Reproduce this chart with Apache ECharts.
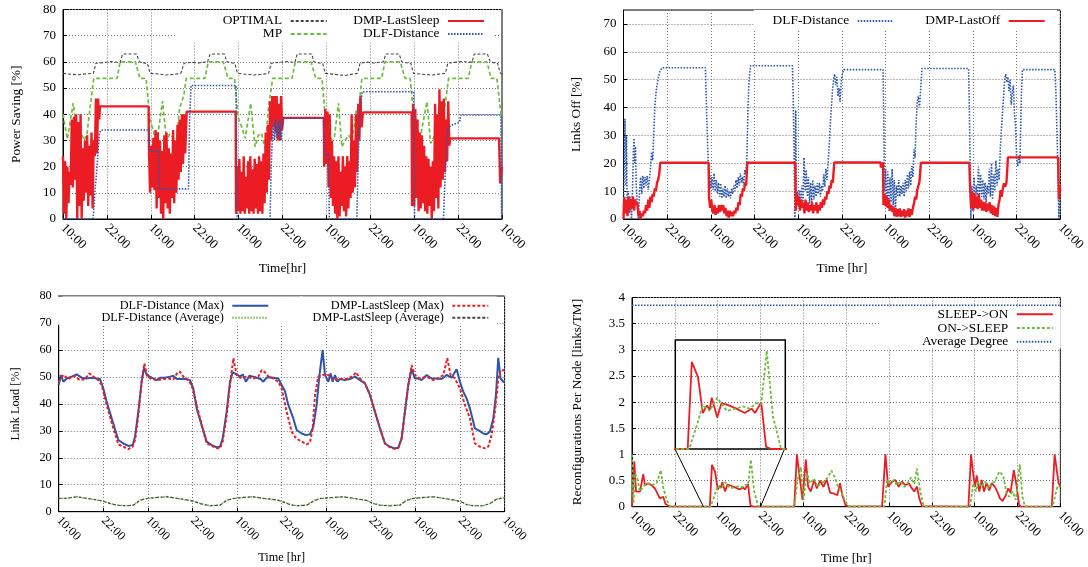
<!DOCTYPE html>
<html><head><meta charset="utf-8">
<script src="https://cdn.jsdelivr.net/npm/echarts@6/dist/echarts.min.js"></script>
<style>html,body{margin:0;padding:0;background:#fff}#c{width:1088px;height:567px}</style>
</head><body><div id="c"></div>
<script>
// ---------- DATA (time in hours from first 10:00, value) ----------
const tickLabels = ['10:00','22:00','10:00','22:00','10:00','22:00','10:00','22:00','10:00','22:00','10:00'];

// Panel 1: Power Saving [%]
const p1Optimal = [[0,55.6],[2,55.3],[4,55.1],[6,55.4],[8.3,55.6],[9.0,59.5],[11,59.7],[13,60.1],[15.6,59.8],[16.3,63.0],[20.1,63.0],[20.9,60.0],[23.1,59.3],[23.8,55.6],
[26,55.4],[28,55.0],[30,55.2],[32.2,55.6],[33.1,59.5],[35,59.8],[37,59.6],[39.5,60.0],[40.2,63.0],[44.1,63.0],[44.8,60.0],[47.0,59.4],[47.7,55.6],
[50,55.3],[52,55.0],[54,55.2],[56.2,55.6],[56.9,59.5],[59,59.8],[61,60.1],[63.4,59.8],[64.0,63.0],[68.0,63.0],[68.6,60.0],[71.0,59.3],[71.7,55.6],
[74,55.3],[77,54.8],[80.5,55.6],[81.2,59.5],[83,59.9],[85,59.6],[87.6,60.0],[88.2,63.0],[91.9,63.0],[92.6,60.0],[95.1,59.4],[95.8,55.6],
[98,55.3],[101,55.0],[104.5,55.6],[105.2,59.5],[107,59.8],[109,60.1],[111.8,59.8],[112.4,63.0],[116.0,63.0],[116.8,60.0],[118.8,59.4],[119.5,55.8],[120,55.2]];
const p1MP = [[0,40],[1.2,30.5],[2.8,44.2],[4.3,27.6],[5.2,32],[5.8,30],[6.6,33],[7.4,42.5],[8.4,53.7],[14.8,53.7],[15.6,60],[19.8,60],[21.0,53.7],[22.7,53.7],[23.8,38],
[24.6,34],[25.6,29],[27.2,45],[28.3,30],[29.2,32.5],[30.1,31],[30.8,27.6],[31.9,42.5],[33.0,47],[33.7,53.7],[38.8,53.7],[39.7,60],[43.8,60],[45.1,53.7],[46.9,53.7],[47.8,39],
[48.9,35],[49.8,30.8],[51.3,44.2],[52.5,27.6],[53.4,32],[54.3,32.7],[55.2,27],[56.2,42.9],[57.3,53.7],[62.6,53.7],[63.5,60],[67.8,60],[69.1,53.7],[70.8,53.7],[71.6,40.3],
[72.4,36],[73.2,30.2],[74.2,31.5],[75.3,44.2],[76.2,27.6],[77.1,30],[78.1,32],[79.0,30],[80.2,41.6],[80.9,43],[81.7,53.7],[87.1,53.7],[88.0,60],[92.2,60],[93.5,53.7],[94.9,53.7],[95.8,40.3],
[96.5,35.9],[97.5,30],[99.5,44.8],[100.5,28.9],[101.7,32],[103.0,30],[104.2,41],[105.4,53.7],[110.8,53.7],[111.7,60],[115.9,60],[117.0,53.7],[118.6,53.7],[119.7,40.3],[120,39.5]];
const p1DmpLastSleep = [[0,24],[0.3,2],[0.6,22],[0.9,0],[1.2,20],[1.5,6],[1.8,18],[2.1,13],[2.4,38],[2.7,12],[3.0,39],[3.3,15],[3.6,40],[3.9,0],[4.2,37],[4.5,5],[4.8,40],[5.1,0],[5.4,27],[5.7,7],[6.0,30],[6.3,10],[6.6,32],[6.9,5],[7.2,28],[7.5,9],[7.8,33],[8.1,4],[8.4,30],[8.7,24],[9.0,46],[9.3,25],[9.6,46],[9.9,38],[10.1,43],[23.4,43],
[23.5,27],[23.8,10],[24.1,28],[24.4,12],[24.7,31],[25.0,11],[25.3,34],[25.6,4],[25.9,33],[26.2,8],[26.5,30],[26.8,2],[27.1,26],[27.4,0],[27.7,32],[28.0,6],[28.3,33],[28.6,4],[28.9,27],[29.2,2],[29.5,25],[29.8,8],[30.1,34],[30.4,6],[30.7,30],[31.0,10],[31.3,36],[31.6,15],[31.9,38],[32.2,18],[32.5,40],[32.8,21],[33.1,40],[33.4,25],[33.8,41],[47.2,41],
[47.3,2],[47.6,20],[47.9,3],[48.2,23],[48.5,2],[48.8,18],[49.1,3],[49.4,24],[49.7,2],[50.0,16],[50.3,4],[50.6,22],[50.9,2],[51.2,24],[51.5,3],[51.8,19],[52.1,2],[52.4,23],[52.7,4],[53.0,21],[53.3,2],[53.6,24],[53.9,3],[54.2,22],[54.5,2],[54.8,25],[55.1,6],[55.4,33],[55.7,10],[56.0,36],[56.3,15],[56.6,45],[56.9,30],[57.2,47],[57.5,35],[57.8,47],[58.1,33],[58.4,47],[58.7,30],[59.0,44],[59.3,30],[59.6,47],[59.9,34],[60.2,38.6],[71.3,38.6],
[71.4,20],[71.7,42],[72.0,21],[72.3,41],[72.6,12],[72.9,40],[73.2,8],[73.5,30],[73.8,5],[74.1,24],[74.4,2],[74.7,22],[75.0,0],[75.3,24],[75.6,1],[75.9,18],[76.2,5],[76.5,24],[76.8,3],[77.1,20],[77.4,1],[77.7,24],[78.0,4],[78.3,22],[78.6,8],[78.9,40],[79.2,10],[79.5,30],[79.8,12],[80.1,40],[80.4,18],[80.7,44],[81.0,30],[81.3,47],[81.6,35],[82.0,40.7],[95.3,40.7],
[95.4,5],[95.7,44],[96.0,5],[96.3,42],[96.6,8],[96.9,38],[97.2,3],[97.5,33],[97.8,4],[98.1,32],[98.4,6],[98.7,28],[99.0,3],[99.3,24],[99.6,2],[99.9,23],[100.2,5],[100.5,20],[100.8,0],[101.1,22],[101.4,3],[101.7,44],[102.0,8],[102.3,40],[102.6,4],[102.9,49.5],[103.2,12],[103.5,45],[103.8,15],[104.1,46],[104.4,18],[104.7,38],[105.0,22],[105.3,45],[105.6,28],[105.9,30.8],[119.2,30.8],[119.5,13.6],[120,20]];
const p1DlfDistance = [[0,0],[8.2,0],[8.5,5],[8.8,12],[9.1,16],[9.4,22],[9.7,28],[10.0,33],[10.5,34],[23.5,34],[23.6,26],[26.1,26],[26.3,11.5],[34.3,11.5],[34.6,38],[35.0,51],[47.3,51],[47.6,0],[56.6,0],[56.9,20],[57.2,30],[57.5,36],[57.8,30],[58.1,38],[58.4,31],[58.7,37],[59.0,32],[59.3,38],[59.6,30],[60.0,38.5],[71.2,38.5],[71.4,24.4],[72.6,24.4],[72.8,0],[80.3,0],[80.6,17],[81.0,38],[81.4,44],[81.8,48.6],[95.9,48.6],[96.1,0],[104.0,0],[104.3,11],[104.6,21],[104.9,32],[105.3,35],[106.5,36],[107.5,36.5],[108.4,37],[108.7,39.7],[119.7,39.7],[119.9,0]];

// Panel 2: Links Off [%]
const p2DlfDistance = [[0,0],[0.2,20],[0.4,36],[0.6,12],[0.8,30],[1.0,5],[1.3,10],[1.6,2],[1.9,8],[2.2,0],[2.5,12],[2.7,24],[2.9,29],[3.1,20],[3.3,26],[3.5,12],[3.8,5],[4.1,0],[4.4,10],[4.7,15],[5.0,9],[5.3,15.5],[5.6,11],[5.9,15],[6.2,12],[6.5,15.5],[6.8,10.5],[7.1,14],[7.4,18],[7.7,24],[8.0,21],[8.3,30],[8.6,40],[8.9,45],[9.2,48],[9.6,51],[10.0,53],[10.6,54.3],[22.5,54.3],[22.8,40],[23.1,27],[23.4,15],
[23.7,16],[24.0,11],[24.3,15],[24.6,10.5],[24.9,16.4],[25.2,10],[25.5,14],[25.8,9.2],[26.1,13],[26.4,8],[26.7,12.8],[27.0,7.4],[27.3,11],[27.6,8],[27.9,12],[28.2,7.5],[28.5,11],[28.8,8],[29.1,10],[29.4,7.4],[29.7,11],[30.0,9],[30.3,12],[30.6,10],[30.9,14],[31.2,11],[31.5,15],[31.8,12],[32.1,16.4],[32.4,13],[32.7,15],[33.0,12],[33.3,17.6],[33.6,16],[33.9,22],[34.2,40],[34.5,50],[34.9,55],[46.4,55],[46.6,45],[46.9,20],[47.1,0],
[47.3,39],[47.5,5],[47.8,10],[48.1,4.4],[48.4,10.4],[48.7,5],[49.0,12],[49.3,6],[49.6,22],[49.9,10],[50.2,17.6],[50.5,8],[50.8,15],[51.1,5.6],[51.4,13],[51.7,6],[52.0,14],[52.3,7],[52.6,12],[52.9,8],[53.2,12.8],[53.5,9],[53.8,13],[54.1,8],[54.4,12],[54.7,10],[55.0,16],[55.3,11.6],[55.6,18],[55.9,14],[56.2,20],[56.5,26],[56.8,34],[57.1,40],[57.4,46],[57.7,50],[58.0,52],[58.3,48],[58.6,51],[58.9,44],[59.2,47],[59.5,42],[59.8,49],[60.1,52],[60.5,53.6],[71.3,53.6],[71.5,35],[71.7,10],
[72.0,18],[72.3,5],[72.6,17],[72.9,3],[73.2,15],[73.5,6],[73.8,18],[74.1,5],[74.4,14],[74.7,3],[75.0,12],[75.3,8],[75.6,14],[75.9,8],[76.2,12],[76.5,9],[76.8,13],[77.1,8],[77.4,14],[77.7,10],[78.0,16],[78.3,11],[78.6,17],[78.9,12],[79.2,19],[79.5,15],[79.8,25],[80.1,22],[80.4,35],[80.7,42],[81.0,44],[81.3,40],[81.6,46],[82.0,54],[94.8,54],[95.0,40],[95.3,12],
[95.4,0],[95.7,12],[96.0,3],[96.3,15],[96.6,5],[96.9,12],[97.2,8],[97.5,18.8],[97.8,9],[98.1,16],[98.4,8],[98.7,14],[99.0,7],[99.3,13],[99.6,6],[99.9,12],[100.2,9],[100.5,18],[100.8,8],[101.1,20],[101.4,7],[101.7,16],[102.0,10],[102.3,21],[102.6,12],[102.9,18],[103.2,14],[103.5,25],[103.8,32],[104.1,38],[104.4,44],[104.7,50],[105.0,52],[105.3,49],[105.6,51],[105.9,46],[106.2,50],[106.5,41],[106.8,45],[107.1,48],[107.4,38],[107.7,33],[108.0,22],[108.3,19],[108.6,23],[108.9,20],[109.3,45],[109.6,53.6],[118.5,53.6],[118.8,45],[119.2,25],[119.6,0],[119.8,12],[120,10]];
const p2DmpLastOff = [[0,0],[0.2,8],[0.5,2],[0.8,7],[1.1,1],[1.4,8],[1.7,3],[2.0,7],[2.3,4],[2.6,8],[2.9,3],[3.2,7],[3.5,5],[3.8,6],[4.1,1],[4.4,3],[4.7,0],[5.0,2],[5.3,1],[5.6,3],[5.9,2],[6.2,5],[6.5,3],[6.8,7],[7.1,4],[7.4,8],[7.7,6],[8.0,9],[8.3,8],[8.6,11],[8.9,10],[9.2,13],[9.5,14],[9.8,16],[10.1,20.2],[23.4,20.2],
[23.5,7.5],[23.8,4],[24.1,7],[24.4,3],[24.7,2],[25.0,5],[25.3,1.5],[25.6,4],[25.9,2],[26.2,5],[26.5,2.5],[26.8,5],[27.1,3],[27.4,5],[27.7,2],[28.0,4],[28.3,1],[28.6,3],[28.9,0.5],[29.2,3],[29.5,1],[29.8,2.5],[30.1,1],[30.4,3],[30.7,2],[31.0,4],[31.3,3],[31.6,6],[31.9,5],[32.2,9],[32.5,8],[32.8,11],[33.1,10],[33.4,13],[33.7,12],[34.0,20.2],[47.2,20.2],
[47.3,3],[47.6,9],[47.9,5],[48.2,8],[48.5,3],[48.8,7],[49.1,4],[49.4,6],[49.7,2],[50.0,7],[50.3,3],[50.6,6],[50.9,2.5],[51.2,5],[51.5,3],[51.8,6],[52.1,2],[52.4,5],[52.7,3],[53.0,6],[53.3,2],[53.6,5],[53.9,3],[54.2,6],[54.5,4],[54.8,7],[55.1,5],[55.4,8],[55.7,7],[56.0,10],[56.3,9],[56.6,12],[56.9,11],[57.2,14],[57.5,13],[57.9,20.3],[70.6,20.3],[70.7,18.5],[71.1,18.5],[71.3,20.3],
[71.4,5],[71.7,9],[72.0,4.5],[72.3,8],[72.6,4],[72.9,7],[73.2,3],[73.5,5],[73.8,2.6],[74.1,4.5],[74.4,1],[74.7,4],[75.0,0.8],[75.3,3.5],[75.6,1],[75.9,3.8],[76.2,0.8],[76.5,3],[76.8,1],[77.1,3.5],[77.4,0.5],[77.7,3],[78.0,1],[78.3,3.8],[78.6,0.8],[78.9,3.5],[79.2,1.5],[79.5,4],[79.8,5.6],[80.1,8],[80.4,7],[80.7,10.4],[81.0,11],[81.3,13.4],[81.7,20.2],[95.0,20.2],
[95.2,11.6],[95.5,4],[95.8,10],[96.1,3.2],[96.4,9.2],[96.7,4],[97.0,8],[97.3,3.5],[97.6,9],[97.9,4],[98.2,7],[98.5,3],[98.8,6.2],[99.1,3],[99.4,6],[99.7,2.6],[100.0,5.5],[100.3,3],[100.6,6],[100.9,2],[101.2,5],[101.5,1.5],[101.8,4.5],[102.1,1],[102.4,4],[102.7,0.8],[103.0,5],[103.3,7],[103.6,10.4],[103.9,8],[104.2,11],[104.5,12.8],[104.8,11.5],[105.2,13],[105.6,22.1],[119.4,22.1],[119.6,7],[119.8,12],[120,10]];

// Panel 3: Link Load [%]
const p3DlfMax = [[0,47.0],[0.54,50.7],[1.26,48.2],[2.15,49.4],[3.5,50.1],[4.84,50.9],[6.19,49.7],[7.53,49.4],[8.88,49.7],[10.22,49.4],[11.12,49.2],[12.02,45.7],[12.91,40.8],[14.26,34.6],[16.05,26.6],[17.4,25.3],[18.74,24.4],[19.91,24.7],[20.54,27.8],[21.43,37.1],[22.33,48.2],[22.96,53.4],[23.68,50.7],[25.02,49.7],[26.37,48.8],[27.26,49.7],[28.61,49.7],[29.96,50.1],[30.85,50.4],[31.75,49.2],[32.65,49.2],[33.99,49.2],[35.34,48.8],[36.23,45.7],[37.13,38.3],[38.48,32.1],[39.82,26.0],[41.17,24.7],[42.51,23.9],[43.41,24.1],[44.13,27.2],[45.2,37.1],[46.1,48.2],[46.82,51.7],[47.89,50.9],[48.79,50.1],[49.51,50.9],[50.4,48.2],[51.3,50.4],[52.38,50.1],[53.27,49.7],[54.35,49.2],[55.07,48.2],[55.96,49.7],[56.86,49.9],[57.76,49.7],[59.1,49.4],[60.0,47.0],[60.9,44.7],[61.79,39.6],[63.14,34.6],[64.04,30.3],[65.38,29.0],[66.55,28.4],[67.62,28.7],[68.52,31.5],[69.42,39.6],[70.13,50.1],[70.58,50.7],[71.03,60.0],[71.66,50.7],[72.11,50.9],[72.56,48.2],[73.18,51.3],[73.72,48.2],[74.35,50.7],[74.98,48.2],[75.7,49.2],[77.04,48.8],[78.39,49.2],[79.73,50.1],[81.08,48.8],[82.42,47.6],[83.77,43.3],[85.11,37.1],[86.46,30.9],[87.8,25.3],[89.15,24.1],[90.49,23.5],[91.39,23.7],[92.29,27.2],[93.18,37.1],[94.08,47.0],[94.98,52.9],[95.87,49.4],[96.77,49.4],[97.67,48.8],[99.01,50.7],[100.36,49.4],[101.7,49.4],[103.05,49.2],[104.39,50.7],[105.74,49.7],[107.09,52.8],[107.98,48.2],[108.88,44.5],[109.78,42.0],[110.67,38.3],[112.02,30.9],[113.36,29.9],[114.26,29.0],[115.16,28.7],[116.05,29.7],[116.95,34.6],[117.67,43.3],[118.3,57.1],[118.92,49.4],[119.64,48.2],[120,48.0]];
const p3DlfAvg = [[0,4.9],[2.15,4.9],[4.84,5.6],[7.53,4.9],[10.22,4.3],[12.02,4.0],[13.81,3.1],[15.61,2.5],[18.3,2.2],[20.09,2.5],[21.88,4.3],[23.68,4.9],[26.37,5.2],[29.06,5.6],[31.75,4.9],[34.44,4.3],[36.23,4.0],[38.03,3.1],[40.72,2.2],[43.41,2.5],[45.2,4.3],[47.0,4.9],[49.69,5.2],[52.38,5.6],[55.07,4.9],[58.65,4.3],[60.45,3.7],[62.24,2.7],[64.04,2.2],[66.73,2.5],[68.52,4.0],[70.31,4.9],[73.9,5.2],[76.59,5.6],[79.28,4.9],[82.87,4.1],[84.66,3.1],[86.46,2.5],[89.15,2.2],[91.84,2.5],[93.63,4.3],[95.43,4.9],[98.12,5.2],[100.81,5.6],[103.5,4.9],[106.19,4.3],[108.43,3.7],[109.78,2.7],[111.57,2.2],[114.26,2.2],[116.05,3.1],[117.85,4.7],[119.64,5.2],[120,5.2]];
const p3DmpMax = [[0,48.2],[1.26,50.7],[2.6,49.2],[3.95,50.4],[5.74,48.8],[7.09,49.2],[8.25,51.3],[9.33,50.1],[10.67,48.8],[11.57,47.0],[12.91,39.6],[14.71,30.9],[16.05,25.0],[17.4,24.1],[18.74,23.2],[19.91,24.1],[20.54,26.6],[21.43,35.8],[22.33,48.2],[23.05,55.0],[23.86,50.1],[25.02,49.2],[26.37,48.8],[28.16,49.2],[29.51,49.4],[30.85,49.1],[32.02,51.7],[32.65,51.9],[33.54,50.1],[34.44,49.4],[35.78,47.0],[37.13,39.6],[38.48,32.1],[39.82,25.3],[41.17,24.5],[42.51,23.5],[43.41,23.5],[44.13,26.0],[45.2,35.8],[46.1,47.0],[47.0,56.9],[47.89,50.7],[48.79,49.7],[50.58,50.1],[52.38,49.4],[53.72,50.1],[54.62,52.5],[55.52,51.7],[56.41,50.1],[57.76,49.4],[59.1,48.2],[60.0,45.7],[61.35,37.1],[62.69,29.7],[63.86,27.2],[65.38,26.0],[66.73,25.0],[67.62,25.7],[68.34,30.9],[68.97,43.3],[69.87,50.1],[71.03,50.7],[72.11,50.9],[73.0,50.4],[73.9,48.8],[75.7,49.2],[77.49,49.2],[79.28,50.4],[80.0,51.7],[81.08,49.4],[82.42,47.6],[83.77,43.3],[85.11,37.1],[86.46,30.9],[87.8,25.3],[89.15,23.9],[90.49,23.2],[91.39,23.7],[92.29,27.2],[93.18,37.1],[94.08,47.0],[94.98,54.4],[95.87,50.7],[97.22,49.4],[99.01,50.1],[100.81,48.8],[102.15,49.4],[103.5,50.7],[104.57,56.9],[105.47,50.7],[106.64,49.4],[107.98,45.7],[109.33,39.6],[110.67,34.6],[112.02,25.3],[113.36,24.1],[114.71,23.5],[115.61,24.1],[116.5,28.4],[117.4,37.1],[118.3,49.4],[118.92,52.5],[119.64,52.5],[120,52.5]];
const p3DmpAvg = [[0,5.0],[2.15,5.0],[4.84,5.5],[7.53,5.0],[10.22,4.4],[12.02,3.9],[13.81,3.0],[15.61,2.4],[18.3,2.2],[20.09,2.4],[21.88,4.2],[23.68,4.9],[26.37,5.3],[29.06,5.5],[31.75,5.0],[34.44,4.4],[36.23,3.9],[38.03,3.0],[40.72,2.2],[43.41,2.4],[45.2,4.2],[47.0,4.9],[49.69,5.3],[52.38,5.5],[55.07,5.0],[58.65,4.4],[60.45,3.6],[62.24,2.6],[64.04,2.2],[66.73,2.4],[68.52,3.9],[70.31,4.9],[73.9,5.3],[76.59,5.5],[79.28,5.0],[82.87,4.2],[84.66,3.0],[86.46,2.4],[89.15,2.2],[91.84,2.4],[93.63,4.2],[95.43,4.9],[98.12,5.3],[100.81,5.5],[103.5,5.0],[106.19,4.4],[108.43,3.6],[109.78,2.6],[111.57,2.2],[114.26,2.2],[116.05,3.0],[117.85,4.6],[119.64,5.1],[120,5.1]];

// Panel 4: Reconfigurations Per Node [links/TM]
const p4SleepOn = [[0,0],[0.65,0.87],[1.12,0.29],[2.23,0.29],[3.16,0.62],[3.62,0.41],[4.55,0.45],[5.48,0.41],[6.41,0.35],[6.88,0.38],[7.81,0.16],[8.74,0.19],[9.39,0.05],[10.6,0],
[21.8,0],[22.4,0.8],[23.3,0.66],[24.0,0.33],[24.6,0.4],[25.0,0.36],[25.3,0.47],[26.1,0.29],[26.7,0.42],[27.4,0.41],[28.9,0.37],[30.1,0.33],[31.1,0.37],[31.6,0.33],[32.5,0.43],[33.2,0.02],[34.0,0],
[45.45,0],[46.19,1.0],[47.77,0.13],[48.7,0.9],[49.35,0.38],[50.09,0.29],[51.02,0.51],[51.77,0.35],[52.7,0.5],[53.62,0.38],[54.55,0.52],[55.48,0.27],[56.6,0.25],[57.53,0.22],[58.27,0.45],[58.92,0.22],[59.85,0.03],[60.78,0],
[70.07,0.01],[71.0,1.0],[71.75,0.38],[72.86,0.48],[73.79,0.51],[74.72,0.38],[75.65,0.48],[76.58,0.41],[77.51,0.45],[78.44,0.35],[79.09,0.29],[79.83,0.39],[80.48,0.16],[81.23,0.01],
[94.24,0],[94.98,1.0],[95.63,0.6],[96.1,0.38],[96.56,0.6],[97.3,0.29],[97.96,0.51],[98.61,0.29],[99.35,0.45],[100.09,0.31],[100.74,0.45],[101.67,0.38],[102.32,0.29],[103.07,0.16],[103.81,0.11],[104.74,0.22],[105.39,0.35],[106.04,0.27],[106.97,0.7],[107.71,0.41],[108.46,0.03],[109.11,0],
[117.6,0],[118.4,1.0],[119.5,0.45],[120,0.4]];
const p4OnSleep = [[0,1.0],[0.4,0.06],[0.85,0.64],[1.5,0.54],[2.2,0.29],[3.2,0.38],[4.1,0.45],[5.5,0.41],[6.9,0.45],[8.1,0.7],[8.7,0.38],[9.7,0.13],[10.6,0.01],[11.0,0],
[22.0,0],[22.9,0.17],[24.0,0.40],[25.0,0.35],[26.1,0.47],[27.5,0.35],[28.7,0.37],[29.9,0.39],[30.8,0.37],[31.8,0.42],[32.5,0.41],[33.3,0.9],[34.2,0.3],[35.4,0],
[45.45,0],[46.38,0.51],[47.3,0.76],[48.05,0.13],[48.98,0.64],[49.91,0.45],[51.02,0.54],[51.95,0.38],[52.88,0.45],[53.81,0.48],[54.93,0.57],[55.86,0.69],[56.78,0.57],[57.71,0.38],[58.64,0.29],[59.57,0.13],[60.5,0.01],[61.0,0],
[70.7,0],[71.47,0.51],[72.4,0.45],[73.33,0.51],[74.26,0.41],[75.19,0.49],[76.3,0.38],[77.23,0.45],[78.16,0.56],[79.09,0.43],[79.83,0.73],[80.76,0.29],[81.5,0.06],[82.16,0],
[94.7,0],[95.63,0.45],[96.37,0.29],[97.03,0.48],[97.96,0.38],[98.88,0.48],[99.81,0.35],[100.74,0.45],[101.67,0.48],[102.88,0.67],[103.99,0.6],[104.93,0.25],[105.67,0.19],[106.6,0.29],[107.53,0.13],[108.64,0.81],[109.39,0.19],[110.04,0.01],[110.97,0],
[117.8,0],[119.2,0.4],[120,0.38]];
const p4AvgDegree = [[0,3.85],[120,3.85]];
// zoom-in inset: magnified range and its connector lines (in panel-4 data units)
const insetRangeX = [20, 36];
const insetRangeY = [0, 1];
const insetLinkLeft = [[12.07,1.1],[20,0]];
const insetLinkRight = [[42.7,1.1],[36,0]];

// ---------- STYLE ----------
const SERIF = '"Liberation Serif","Times New Roman","DejaVu Serif",serif';
const RED = '#ec1c24', BLUE = '#2b56ac', GREEN = '#6cbd3c', BLACK = '#444';

function xAxis(gi, fs, nfs, name, gap) {
  return {type:'value', gridIndex:gi, min:0, max:120, interval:12,
    name:name, nameLocation:'middle', nameGap:gap,
    nameTextStyle:{fontFamily:SERIF, fontSize:nfs, color:'#000'},
    axisLine:{show:true, onZero:false, lineStyle:{color:'#000', width:1}},
    axisTick:{show:true, inside:true, length:4, lineStyle:{color:'#000'}},
    axisLabel:{rotate:-45, margin:7, fontFamily:SERIF, fontSize:fs, color:'#000',
      formatter:function(v){return tickLabels[Math.round(v/12)];}},
    splitLine:{show:true, lineStyle:{color:'#777', width:1, type:[1,2]}}};
}
function yAxis(gi, min, max, interval, fs, nfs, name, gap, showMax) {
  return {type:'value', gridIndex:gi, min:min, max:max, interval:interval,
    name:name, nameLocation:'middle', nameGap:gap,
    nameTextStyle:{fontFamily:SERIF, fontSize:nfs, color:'#000'},
    axisLine:{show:true, onZero:false, lineStyle:{color:'#000', width:1}},
    axisTick:{show:true, inside:true, length:4, lineStyle:{color:'#000'}},
    axisLabel:{margin:7, fontFamily:SERIF, fontSize:fs, color:'#000', showMaxLabel:showMax},
    splitLine:{show:true, lineStyle:{color:'#777', width:1, type:[1,2]}}};
}
function ser(name, gi, data, color, width, type, extra) {
  return Object.assign({type:'line', name:name, xAxisIndex:gi, yAxisIndex:gi, data:data,
    symbol:'none', showSymbol:false, animation:false, clip:true,
    lineStyle:{color:color, width:width, type:type}, itemStyle:{color:color}}, extra||{});
}
function legend(names, right, top, pad, fs, lh) {
  return {data:names, orient:'vertical', align:'right', right:right, top:top, padding:pad,
    itemGap:0, itemWidth:36, itemHeight:8, backgroundColor:'#fff', selectedMode:false,
    itemStyle:{opacity:0, color:'rgba(0,0,0,0)', borderWidth:0},
    textStyle:{fontFamily:SERIF, fontSize:fs, color:'#000', lineHeight:lh, padding:[0,3.5,0,0]}};
}

const option = {
  animation:false,
  backgroundColor:'#fff',
  grid:[
    {left:63, top:9.5, width:439, height:209.5, show:true, borderColor:'#000', borderWidth:1},
    {left:623.5, top:10, width:438.3, height:209, show:true, borderColor:'#000', borderWidth:1},
    {left:58.7, top:296, width:445.9, height:215.7, show:true, borderColor:'#000', borderWidth:1},
    {left:632, top:297.5, width:430.4, height:209.2, show:true, borderColor:'#000', borderWidth:1},
    {left:675.3, top:340, width:110, height:109, show:true, borderColor:'#000', borderWidth:1.5, backgroundColor:'transparent', z:5}
  ],
  xAxis:[
    xAxis(0, 13, 13.3, 'Time[hr]', 43),
    xAxis(1, 13, 13.3, 'Time [hr]', 43),
    xAxis(2, 12.3, 12.3, 'Time [hr]', 40),
    xAxis(3, 13, 13.3, 'Time [hr]', 45),
    {type:'value', gridIndex:4, min:insetRangeX[0], max:insetRangeX[1], show:false, splitLine:{show:false}}
  ],
  yAxis:[
    yAxis(0, 0, 80, 10, 13, 13.3, 'Power Saving [%]', 40, true),
    yAxis(1, 0, 75, 10, 13, 13.3, 'Links Off [%]', 40, false),
    yAxis(2, 0, 80, 10, 12.3, 12.3, 'Link Load [%]', 37, true),
    yAxis(3, 0, 4, 0.5, 13, 13.3, 'Reconfigurations Per Node [links/TM]', 48, true),
    {type:'value', gridIndex:4, min:insetRangeY[0], max:insetRangeY[1], show:false, splitLine:{show:false}}
  ],
  legend:[
    legend(['OPTIMAL','MP'], 747.3, 10, [4.4,13,2.4,45.7], 13.4, 12.6),
    legend(['DMP-LastSleep','DLF-Distance'], 595, 10, [4.4,8,2.4,13], 13.4, 12.6),
    legend(['DLF-Distance'], 174.3, 10, [4.4,19,3,19], 13.4, 12.6),
    legend(['DMP-LastOff'], 31, 10, [4.4,11.3,3,13], 13.4, 12.6),
    legend(['DLF-Distance (Max)','DLF-Distance (Average)'], 785.3, 296.5, [3.2,33.4,1,44], 12.3, 12),
    legend(['DMP-LastSleep (Max)','DMP-LastSleep (Average)'], 591.3, 296.5, [3.2,7.4,1,13], 12.3, 12),
    legend(['SLEEP->ON','ON->SLEEP','Average Degree'], 27.2, 307, [0.5,7,0,42], 13.4, 13.7)
  ],
  series:[
    ser('OPTIMAL', 0, p1Optimal, BLACK, 1.1, [3,2]),
    ser('MP', 0, p1MP, GREEN, 1.7, [4,2.5]),
    ser('DMP-LastSleep', 0, p1DmpLastSleep, RED, 2.4, 'solid'),
    ser('DLF-Distance', 0, p1DlfDistance, BLUE, 1.6, [1.5,1.5]),

    ser('DLF-Distance', 1, p2DlfDistance, BLUE, 1.6, [1.5,1.5]),
    ser('DMP-LastOff', 1, p2DmpLastOff, RED, 2.4, 'solid'),

    ser('DLF-Distance (Max)', 2, p3DlfMax, BLUE, 2, 'solid'),
    ser('DLF-Distance (Average)', 2, p3DlfAvg, GREEN, 1.5, [1.5,1.5]),
    ser('DMP-LastSleep (Max)', 2, p3DmpMax, RED, 2, [3,2]),
    ser('DMP-LastSleep (Average)', 2, p3DmpAvg, BLACK, 1.1, [3,2]),

    ser('SLEEP->ON', 3, p4SleepOn, RED, 1.8, 'solid'),
    ser('ON->SLEEP', 3, p4OnSleep, GREEN, 1.8, [3,2]),
    ser('Average Degree', 3, p4AvgDegree, BLUE, 1.5, [1.5,1.5]),
    ser('insetLinkL', 3, insetLinkLeft, '#000', 1, 'solid'),
    ser('insetLinkR', 3, insetLinkRight, '#000', 1, 'solid'),

    ser('SLEEP->ON', 4, p4SleepOn, RED, 1.8, 'solid', {z:6}),
    ser('ON->SLEEP', 4, p4OnSleep, GREEN, 1.8, [3,2], {z:6})
  ]
};
const chart = echarts.init(document.getElementById('c'), null, {renderer:'canvas'});
chart.setOption(option);
</script></body></html>
